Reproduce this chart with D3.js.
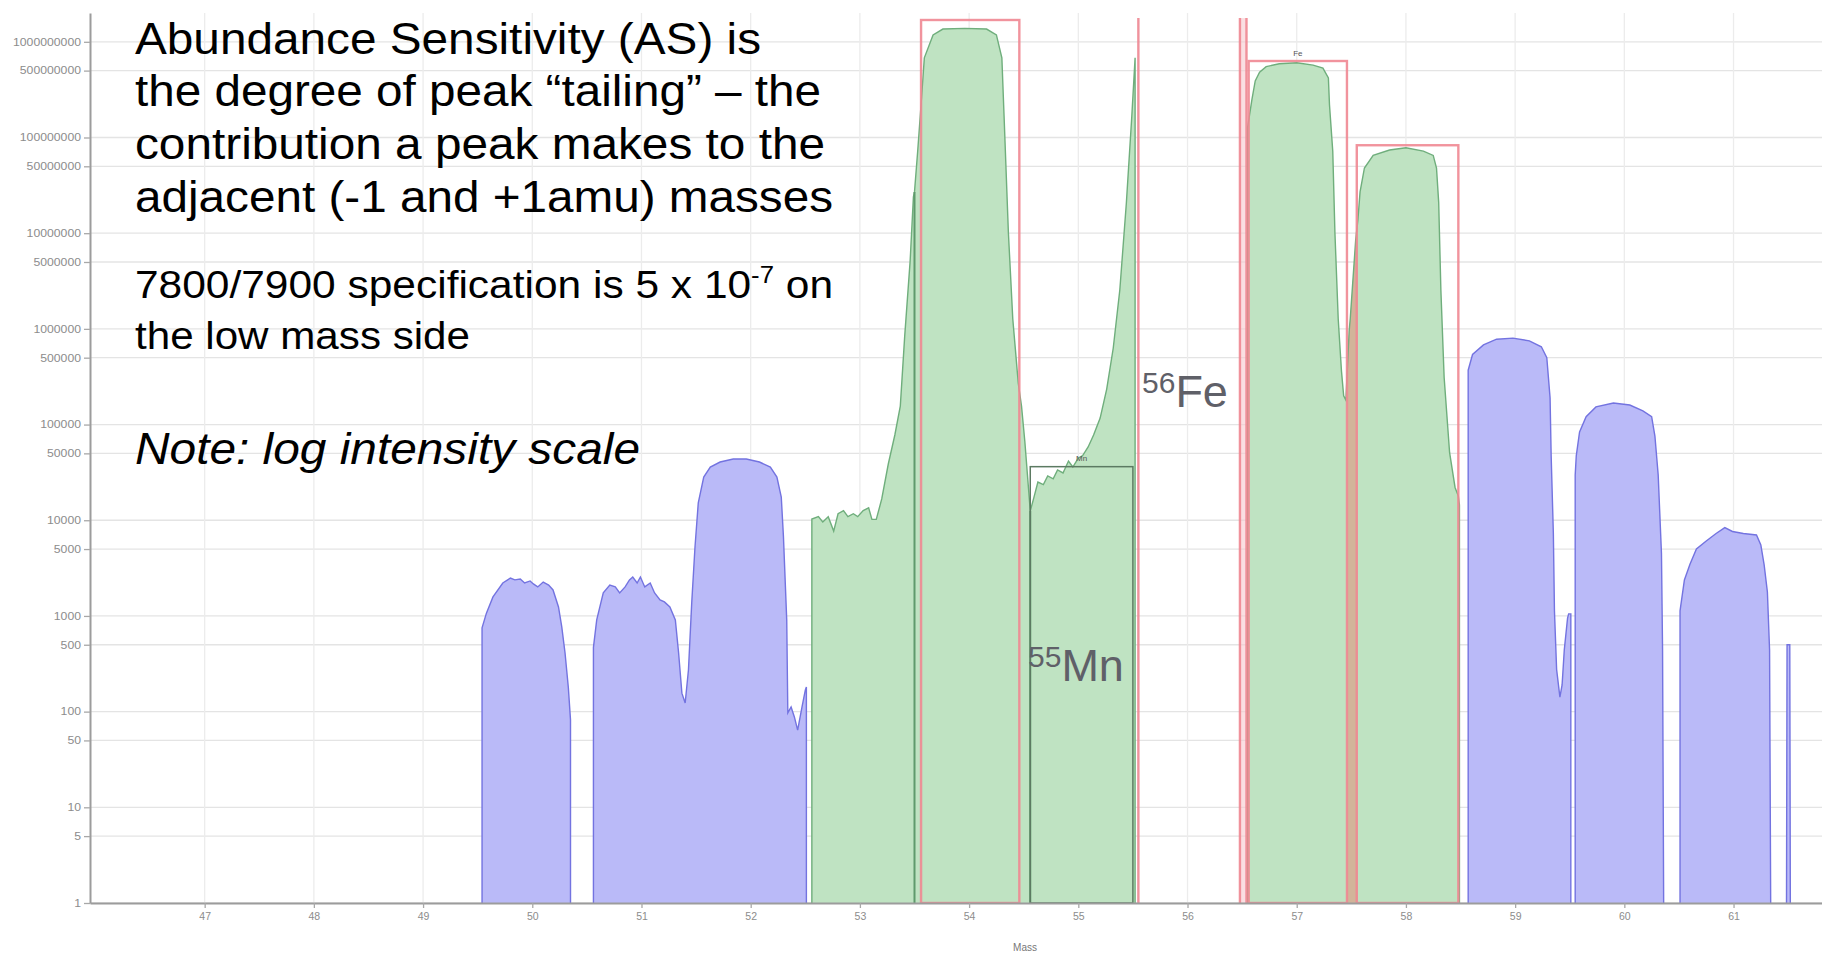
<!DOCTYPE html>
<html><head><meta charset="utf-8">
<script src="https://cdn.jsdelivr.net/npm/d3@7"></script>
<style>
html,body{margin:0;padding:0;background:#fff;overflow:hidden}
svg{display:block}
</style></head><body>
<svg id="chart" width="1822" height="953"></svg>
<script>
// ---------- data (mass in amu, intensity in counts) ----------
const massTicks = [47,48,49,50,51,52,53,54,55,56,57,58,59,60,61];
const intensityTicks = [1,5,10,50,100,500,1000,5000,10000,50000,100000,500000,1000000,5000000,10000000,50000000,100000000,500000000,1000000000];

const peak50 = [[49.54,1],[49.54,750],[49.58,1070],[49.64,1580],[49.73,2210],[49.80,2490],[49.84,2380],[49.89,2430],[49.93,2210],[49.98,2320],[50.01,2160],[50.05,2010],[50.10,2260],[50.15,2100],[50.19,1870],[50.24,1240],[50.27,770],[50.30,410],[50.33,180],[50.35,82],[50.35,1]];

const peak51_52 = [[50.56,1],[50.56,470],[50.59,910],[50.65,1740],[50.71,2100],[50.76,2010],[50.80,1740],[50.85,2010],[50.89,2380],[50.92,2550],[50.96,2210],[50.99,2550],[51.03,2010],[51.08,2210],[51.12,1740],[51.17,1470],[51.21,1400],[51.26,1240],[51.31,910],[51.34,410],[51.37,156],[51.40,123],[51.43,272],[51.46,1370],[51.49,5250],[51.52,15200],[51.57,28300],[51.63,36000],[51.72,40600],[51.84,43700],[51.96,43700],[52.08,40600],[52.18,36000],[52.24,28300],[52.28,17500],[52.30,6700],[52.33,910],[52.34,97],[52.37,112],[52.40,88],[52.43,64],[52.47,112],[52.50,168],[52.51,181],[52.51,1]];

const mass53to55 = [[52.56,1],[52.56,10300],[52.62,10900],[52.66,9600],[52.71,10900],[52.76,7700],[52.80,11700],[52.85,12600],[52.89,10900],[52.94,11700],[52.98,10900],[53.03,12600],[53.08,13500],[53.11,10200],[53.15,10200],[53.20,16700],[53.26,38700],[53.32,77800],[53.37,156000],[53.41,830000],[53.46,5.1e6],[53.49,2.4e7],[53.50,2.7e7],[53.53,7.4e7],[53.56,2.2e8],[53.59,6.8e8],[53.67,1.18e9],[53.76,1.36e9],[53.96,1.38e9],[54.16,1.36e9],[54.25,1.18e9],[54.30,6.8e8],[54.32,1.7e8],[54.36,1.0e7],[54.40,1.27e6],[54.45,272000],[54.48,156000],[54.51,67300],[54.56,12500],[54.59,16700],[54.63,25100],[54.68,23600],[54.72,29000],[54.77,27100],[54.81,33500],[54.86,31200],[54.91,41600],[54.95,36000],[55.00,44700],[55.04,47400],[55.09,58300],[55.14,77800],[55.20,117000],[55.26,235000],[55.32,631000],[55.38,2.55e6],[55.44,2.07e7],[55.49,1.68e8],[55.52,6.8e8],[55.52,1]];

const mass57to58 = [[56.55,1],[56.55,1.27e8],[56.59,2.5e8],[56.62,3.9e8],[56.66,4.8e8],[56.72,5.5e8],[56.84,5.9e8],[57.00,6.05e8],[57.15,5.7e8],[57.24,5.3e8],[57.29,4.2e8],[57.30,2.2e8],[57.33,7.2e7],[57.35,1.0e7],[57.38,1.27e6],[57.41,3.6e5],[57.43,2.0e5],[57.45,1.8e5],[57.46,3.1e5],[57.48,9.5e5],[57.49,1.27e6],[57.54,8.5e6],[57.56,1.37e7],[57.58,2.7e7],[57.62,4.8e7],[57.70,6.5e7],[57.85,7.4e7],[58.00,7.8e7],[58.16,7.2e7],[58.25,6.5e7],[58.28,4.8e7],[58.30,2.1e7],[58.32,2.55e6],[58.35,3.1e5],[58.40,50800],[58.45,22000],[58.48,17900],[58.49,14400],[58.49,1]];

const peak59 = [[58.57,1],[58.57,3.7e5],[58.61,5.4e5],[58.71,6.8e5],[58.83,7.8e5],[58.98,8.0e5],[59.13,7.5e5],[59.24,6.5e5],[59.29,5.0e5],[59.32,1.9e5],[59.33,47000],[59.35,7300],[59.36,1130],[59.38,275],[59.41,142],[59.43,190],[59.45,440],[59.48,950],[59.49,1050],[59.51,1050],[59.51,1]];

const peak60 = [[59.55,1],[59.55,29700],[59.56,47400],[59.59,83600],[59.65,121000],[59.74,153000],[59.90,168000],[60.05,160000],[60.17,139000],[60.25,121000],[60.28,75900],[60.31,29700],[60.34,4500],[60.35,440],[60.36,1]];

const peak61 = [[60.51,1],[60.51,1130],[60.55,2380],[60.60,3440],[60.66,5000],[60.75,6070],[60.84,7270],[60.92,8380],[60.99,7630],[61.09,7270],[61.21,7010],[61.25,5510],[61.28,3440],[61.31,1780],[61.33,440],[61.34,1]];

const spike61 = [[61.485,1],[61.49,500],[61.515,500],[61.52,1]];

// integration windows: [massFrom, massTo, top intensity]
const windowsFe = [[53.56,54.46,1.69e9],[56.56,57.46,6.3e8],[57.55,58.48,8.3e7]];
const windowMn = [54.56,55.50,36300];
const fe56Lines = [55.55,56.48,56.54];
const fe56Top = 1.77e9;
const greenSplits = [53.50,54.56];

// ---------- drawing ----------
const svg = d3.select("#chart");
const W = 1822, H = 953;
const x = d3.scaleLinear().domain([45.95, 61.81]).range([90, 1822]);
const y = d3.scaleLog().domain([1, 2e9]).range([903, 13]);

const blueFill = "#babaf8", blueLine = "#7373e0";
const greenFill = "#bfe3c2", greenLine = "#6fae7c";
const red = "#ef8792";

svg.append("rect").attr("width", W).attr("height", H).attr("fill", "#fff");

const defs = svg.append("defs");
defs.append("clipPath").attr("id","plot").append("rect")
  .attr("x", 90).attr("y", 0).attr("width", W-90).attr("height", 903);

// grid
const grid = svg.append("g");
grid.selectAll("line.h").data(intensityTicks).join("line")
  .attr("x1", 90).attr("x2", W).attr("y1", d=>y(d)).attr("y2", d=>y(d))
  .attr("stroke", "#e4e4e4").attr("stroke-width", 1.3);
grid.selectAll("line.v").data(massTicks).join("line")
  .attr("y1", 13).attr("y2", 903).attr("x1", d=>x(d)).attr("x2", d=>x(d))
  .attr("stroke", "#ececec").attr("stroke-width", 1.3);

const plot = svg.append("g").attr("clip-path","url(#plot)");
const area = d3.area().x(d=>x(d[0])).y0(y(1)).y1(d=>y(d[1]));
const line = d3.line().x(d=>x(d[0])).y(d=>y(d[1]));

const blueSeries = [peak50, peak51_52, peak59, peak60, peak61, spike61];
const greenSeries = [mass53to55, mass57to58];

plot.selectAll("path.ba").data(blueSeries).join("path")
  .attr("d", area).attr("fill", blueFill);
plot.selectAll("path.ga").data(greenSeries).join("path")
  .attr("d", area).attr("fill", greenFill);

// tan overlap band between the 57 and 58 windows
defs.append("clipPath").attr("id","band").append("rect")
  .attr("x", x(windowsFe[1][1])).attr("y", 0)
  .attr("width", x(windowsFe[2][0]) - x(windowsFe[1][1])).attr("height", 903);
plot.append("path").datum(mass57to58).attr("d", area)
  .attr("fill", "#d2b49a").attr("clip-path","url(#band)");

// pink band of the 56 window
plot.append("rect")
  .attr("x", x(fe56Lines[1])).attr("width", x(fe56Lines[2]) - x(fe56Lines[1]))
  .attr("y", y(fe56Top)).attr("height", y(1) - y(fe56Top))
  .attr("fill", "#f7c9cf").attr("opacity", 0.6);

plot.selectAll("path.bl").data(blueSeries).join("path")
  .attr("d", line).attr("fill", "none").attr("stroke", blueLine).attr("stroke-width", 1.4);
plot.selectAll("path.gl").data(greenSeries).join("path")
  .attr("d", line).attr("fill", "none").attr("stroke", greenLine).attr("stroke-width", 1.4);

// split lines inside green trace
function valueAt(series, m){ const p = series.find(d => Math.abs(d[0]-m) < 1e-6); return p ? p[1] : 1; }
plot.selectAll("line.split").data(greenSplits).join("line")
  .attr("x1", d=>x(d)).attr("x2", d=>x(d))
  .attr("y1", y(1)).attr("y2", d=>y(valueAt(mass53to55, d)))
  .attr("stroke", "#5f9a6c").attr("stroke-width", 2);

// Mn window
plot.append("rect")
  .attr("x", x(windowMn[0])).attr("width", x(windowMn[1]) - x(windowMn[0]))
  .attr("y", y(windowMn[2])).attr("height", y(1) - y(windowMn[2]))
  .attr("fill", "none").attr("stroke", "#5c7a62").attr("stroke-width", 1.5);
plot.append("text").attr("x", x((windowMn[0]+windowMn[1])/2)).attr("y", y(windowMn[2]) - 6)
  .attr("text-anchor","middle").attr("font-size", 8).attr("font-family","Liberation Sans, Arial")
  .attr("fill","#555").text("Mn");

// Fe windows (red)
plot.selectAll("rect.fe").data(windowsFe).join("rect")
  .attr("x", d=>x(d[0])).attr("width", d=>x(d[1]) - x(d[0]))
  .attr("y", d=>y(d[2])).attr("height", d=>y(1) - y(d[2]))
  .attr("fill", "none").attr("stroke", red).attr("stroke-width", 2.4).attr("opacity", 0.9);
plot.append("text").attr("x", x((windowsFe[1][0]+windowsFe[1][1])/2)).attr("y", y(windowsFe[1][2]) - 5)
  .attr("text-anchor","middle").attr("font-size", 8).attr("font-family","Liberation Sans, Arial")
  .attr("fill","#555").text("Fe");

plot.selectAll("line.fe56").data(fe56Lines).join("line")
  .attr("x1", d=>x(d)).attr("x2", d=>x(d)).attr("y1", y(fe56Top)).attr("y2", y(1))
  .attr("stroke", red).attr("stroke-width", 2.4).attr("opacity", 0.9);

// axes
const yAxis = svg.append("g").attr("transform", "translate(90,0)")
  .call(d3.axisLeft(y).tickValues(intensityTicks).tickFormat(d3.format("d")).tickSize(6).tickSizeOuter(0));
const xAxis = svg.append("g").attr("transform", "translate(0,903)")
  .call(d3.axisBottom(x).tickValues(massTicks).tickFormat(d3.format("d")).tickSize(5).tickSizeOuter(0));
[yAxis, xAxis].forEach(g => {
  g.select(".domain").attr("stroke", "#9c9c9c").attr("stroke-width", 2);
  g.selectAll(".tick line").attr("stroke", "#a8a8a8").attr("stroke-width", 1.3);
  g.selectAll(".tick text").attr("fill", "#8c8c8c").attr("font-size", 10.5)
    .attr("font-family", "Liberation Sans, Arial");
});
yAxis.selectAll(".tick text").attr("x", -9)
  .attr("textLength", function(){ return this.textContent.length * 6.8; })
  .attr("lengthAdjust", "spacingAndGlyphs");
xAxis.selectAll(".tick text").attr("y", 10);

svg.append("text").attr("x", 1025).attr("y", 951).attr("text-anchor","middle")
  .attr("font-size", 10).attr("font-family","Liberation Sans, Arial").attr("fill","#777").text("Mass");

// annotation text block
const font = "Liberation Sans, Arial, sans-serif";
const para1 = [
  {t:"Abundance Sensitivity (AS) is", y:54, w:626},
  {t:"the degree of peak \u201Ctailing\u201D \u2013 the", y:106, w:686},
  {t:"contribution a peak makes to the", y:159, w:690},
  {t:"adjacent (-1 and +1amu) masses", y:212, w:698}
];
svg.selectAll("text.p1").data(para1).join("text")
  .attr("x", 135).attr("y", d=>d.y).attr("font-family", font).attr("font-size", 44)
  .attr("fill", "#000").attr("textLength", d=>d.w).attr("lengthAdjust","spacingAndGlyphs")
  .text(d=>d.t);

const spec = svg.append("text").attr("x", 135).attr("y", 298).attr("font-family", font)
  .attr("font-size", 38).attr("fill","#000").attr("textLength", 698).attr("lengthAdjust","spacingAndGlyphs");
spec.append("tspan").text("7800/7900 specification is 5 x 10");
spec.append("tspan").attr("font-size", 23).attr("dy", -15).text("-7");
spec.append("tspan").attr("dy", 15).text(" on");
svg.append("text").attr("x", 135).attr("y", 349).attr("font-family", font)
  .attr("font-size", 38).attr("fill","#000").attr("textLength", 335).attr("lengthAdjust","spacingAndGlyphs")
  .text("the low mass side");
svg.append("text").attr("x", 135).attr("y", 464).attr("font-family", font)
  .attr("font-size", 44).attr("font-style","italic").attr("fill","#000")
  .attr("textLength", 505).attr("lengthAdjust","spacingAndGlyphs")
  .text("Note: log intensity scale");

// isotope labels
const mn = svg.append("text").attr("x", 1028).attr("y", 681).attr("font-family", font).attr("fill", "#5f6068");
mn.append("tspan").attr("font-size", 30).attr("dy", -14).text("55");
mn.append("tspan").attr("font-size", 45).attr("dy", 14).text("Mn");
const fe = svg.append("text").attr("x", 1142).attr("y", 407).attr("font-family", font).attr("fill", "#5f6068");
fe.append("tspan").attr("font-size", 30).attr("dy", -14).text("56");
fe.append("tspan").attr("font-size", 45).attr("dy", 14).text("Fe");
</script>
</body></html>
